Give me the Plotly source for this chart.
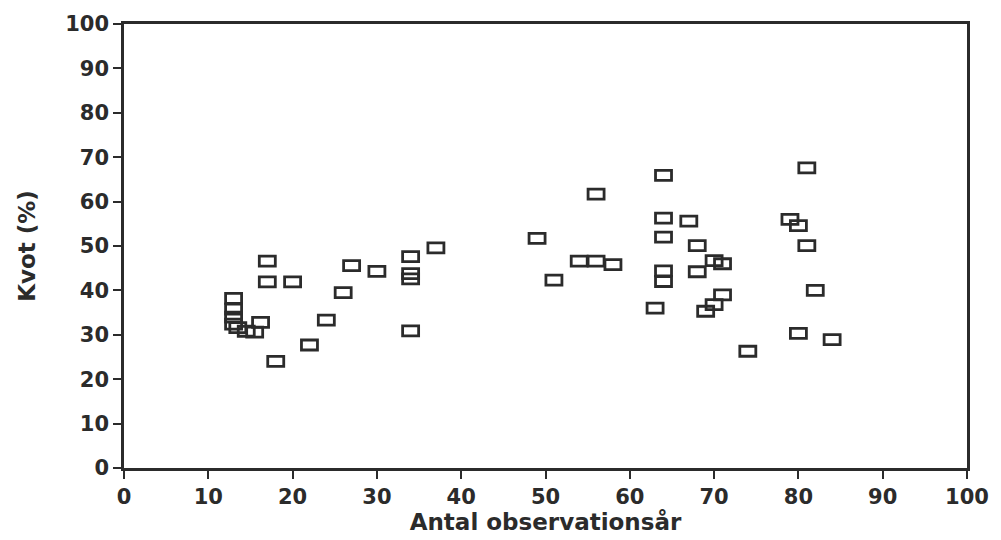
import plotly.graph_objects as go

# Observation years (x) and ratio in percent (y) per station
antal_ar = [
    13, 13, 13, 13, 13.5, 14.5, 15.5, 16.2,
    17, 17, 18, 20, 22, 24, 26, 27, 30,
    34, 34, 34, 34, 37,
    49, 51, 54, 56, 56, 58,
    63, 64, 64, 64, 64, 64, 67,
    68, 68, 69, 70, 70, 71, 71,
    74, 79, 80, 80, 81, 81, 82, 84,
]
kvot = [
    38.2, 35.8, 34.0, 32.4, 31.6, 30.8, 30.6, 32.8,
    46.6, 41.9, 24.0, 41.9, 27.7, 33.3, 39.5, 45.6, 44.3,
    47.6, 43.8, 42.6, 30.9, 49.6,
    51.7, 42.3, 46.6, 61.7, 46.6, 45.8,
    36.0, 65.9, 56.3, 52.0, 44.4, 42.0, 55.6,
    50.1, 44.2, 35.3, 46.7, 36.8, 46.0, 39.0,
    26.3, 56.0, 54.6, 30.3, 67.6, 50.1, 40.0, 28.9,
]

x_ticks = list(range(0, 101, 10))
y_ticks = list(range(0, 101, 10))

ink = "#2b2b2b"
tick_font = dict(family="DejaVu Sans, Arial, sans-serif", size=21,
                 color=ink, weight="bold")
title_font = dict(family="DejaVu Sans, Arial, sans-serif", size=23,
                  color=ink, weight="bold")

fig = go.Figure()
fig.add_trace(go.Scatter(
    x=antal_ar, y=kvot, mode="markers",
    marker=dict(size=12, color="rgba(0,0,0,0)"),
    hoverinfo="x+y", showlegend=False,
))

# Open rectangular markers anchored at each data point
for xv, yv in zip(antal_ar, kvot):
    fig.add_shape(
        type="rect", xref="x", yref="y",
        xsizemode="pixel", ysizemode="pixel",
        xanchor=xv, yanchor=yv,
        x0=-8, x1=8, y0=-5, y1=5,
        line=dict(color=ink, width=2.8),
        fillcolor="rgba(0,0,0,0)",
    )

axis_common = dict(
    showgrid=False, zeroline=False,
    showline=True, linecolor=ink, linewidth=2.5, mirror=True,
    ticks="outside", ticklen=8, tickwidth=2, tickcolor=ink,
    tickfont=tick_font,
)

fig.update_layout(
    width=1001, height=540,
    margin=dict(l=124, r=33, t=16, b=72),
    paper_bgcolor="white", plot_bgcolor="white",
    font=tick_font,
    xaxis=dict(
        range=[0, 100], tickvals=x_ticks,
        title=dict(text="Antal observationsår", font=title_font, standoff=3),
        **axis_common,
    ),
    yaxis=dict(
        range=[0, 100], tickvals=y_ticks,
        title=dict(text="Kvot (%)", font=title_font, standoff=24),
        **axis_common,
    ),
)

fig.write_html("out.html")
